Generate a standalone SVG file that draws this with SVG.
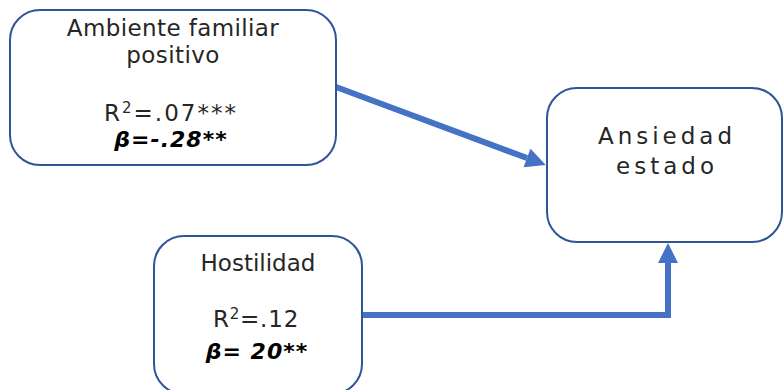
<svg xmlns="http://www.w3.org/2000/svg" width="784" height="390" viewBox="0 0 784 390">
<style>
.box{fill:#ffffff;stroke:#2f5597;stroke-width:2}
.t{font-family:"DejaVu Sans","Liberation Sans",sans-serif;font-size:23px;fill:#262626;text-anchor:middle}
.b{font-family:"DejaVu Sans","Liberation Sans",sans-serif;font-size:22px;font-weight:bold;font-style:italic;fill:#000;text-anchor:middle;letter-spacing:1px}
.c{fill:none;stroke:#4472c4;stroke-width:6}
</style>
<defs>
<marker id="ah" markerUnits="userSpaceOnUse" markerWidth="21" markerHeight="20" refX="0" refY="10" orient="auto" overflow="visible">
<path d="M0,0 L20,10 L0,20 z" fill="#4472c4"/>
</marker>
</defs>
<rect width="784" height="390" fill="#ffffff"/>
<g id="connectors">
<path class="c" d="M336,87 L527,158" marker-end="url(#ah)"/>
<path class="c" d="M357,315 H668 V263" marker-end="url(#ah)"/>
</g>
<g id="ambiente">
<rect class="box" x="10" y="10" width="326" height="155" rx="30"/>
<text class="t" x="173" y="36" letter-spacing="0.4">Ambiente familiar</text>
<text class="t" x="173" y="63" letter-spacing="0.4">positivo</text>
<text class="t" x="171" y="121" letter-spacing="2">R<tspan font-size="15" dy="-8">2</tspan><tspan dy="8">=.07***</tspan></text>
<text class="b" x="171" y="147">β=-.28**</text>
</g>
<g id="ansiedad">
<rect class="box" x="547" y="88" width="235" height="154" rx="30"/>
<text class="t" x="667" y="144" font-size="24" letter-spacing="4">Ansiedad</text>
<text class="t" x="667" y="174" font-size="24" letter-spacing="4">estado</text>
</g>
<g id="hostilidad">
<rect class="box" x="154" y="236" width="208" height="158" rx="30"/>
<text class="t" x="258" y="271">Hostilidad</text>
<text class="t" x="256" y="327" letter-spacing="0.8">R<tspan font-size="15" dy="-8">2</tspan><tspan dy="8">=.12</tspan></text>
<text class="b" x="257" y="359">β= 20**</text>
</g>
</svg>
